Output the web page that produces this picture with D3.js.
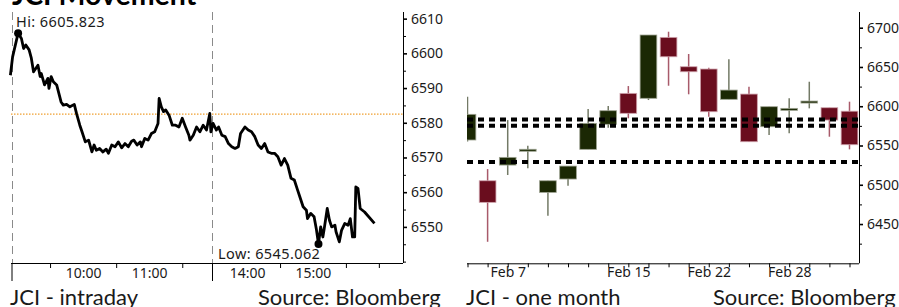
<!DOCTYPE html>
<html>
<head>
<meta charset="utf-8">
<script src="https://cdn.jsdelivr.net/npm/d3@7"></script>
<style>
  html, body { margin: 0; padding: 0; background: #fff; }
  svg { display: block; }
</style>
</head>
<body>
<div id="chart"></div>
<script>
// ---- intraday (left panel) ----
const intradayTime = [
  "8:54","8:56","9:01","9:04","9:06","9:08","9:11","9:13","9:15","9:19",
  "9:21","9:22","9:25","9:28","9:29","9:31","9:33","9:36","9:40","9:42",
  "9:45","9:48","9:52","9:54","9:57","9:59","10:02","10:05","10:08","10:10",
  "10:12","10:15","10:18","10:21","10:23","10:26","10:29","10:32","10:35","10:38",
  "10:41","10:44","10:46","10:49","10:52","10:53","10:56","10:59","11:02","11:05",
  "11:08","11:09","11:11","11:13","11:15","11:18","11:21","11:24","11:27","11:30",
  "11:33","11:36","11:37","11:40","11:43","11:46","11:49","11:52","11:55","11:56",
  "13:29","13:32","13:34","13:37","13:40","13:43","13:46","13:49","13:52","13:54",
  "13:58","14:01","14:04","14:07","14:10","14:13","14:16","14:19","14:22","14:25",
  "14:28","14:31","14:34","14:37","14:40","14:43","14:46","14:48","14:51","14:54",
  "14:55","14:58","15:01","15:03","15:05","15:07","15:09","15:10","15:13","15:15",
  "15:17","15:20","15:21","15:24","15:26","15:29","15:32","15:34","15:36","15:38",
  "15:39","15:41","15:43","15:47","15:56"
];
const intradayPrice = [
  6593.7,6599.0,6605.823,6604.3,6601.4,6602.4,6601.0,6598.6,6594.7,6596.6,
  6593.3,6594.2,6590.9,6592.8,6589.9,6593.3,6591.8,6590.9,6586.0,6585.1,
  6585.3,6584.6,6585.3,6582.7,6579.3,6577.4,6574.5,6575.0,6571.6,6573.6,
  6572.1,6572.6,6571.6,6572.4,6571.2,6573.6,6573.1,6574.5,6572.8,6574.0,
  6573.1,6574.7,6575.0,6573.6,6574.5,6573.1,6575.5,6575.0,6576.9,6577.4,
  6579.8,6587.0,6584.6,6583.2,6583.7,6582.2,6579.3,6579.3,6578.8,6581.3,
  6578.8,6576.4,6575.0,6576.4,6578.8,6577.4,6579.3,6577.9,6582.7,6577.4,
  6579.8,6577.9,6578.8,6576.4,6576.0,6574.0,6573.1,6572.6,6573.1,6576.9,
  6578.8,6577.9,6577.4,6576.0,6573.6,6572.6,6574.0,6571.6,6571.2,6571.2,
  6570.2,6567.8,6569.7,6567.8,6564.0,6563.5,6560.6,6558.7,6555.8,6554.8,
  6552.4,6553.9,6552.9,6549.5,6545.062,6550.0,6547.1,6549.0,6555.3,6551.9,
  6550.0,6550.5,6548.6,6545.7,6549.0,6551.0,6550.5,6552.4,6547.1,6547.1,
  6561.5,6561.1,6555.3,6554.3,6551.0
];
const prevClose = 6582.5;
const intradayYTicks = [6550, 6560, 6570, 6580, 6590, 6600, 6610];
const intradayYMinor = [6540, 6545, 6555, 6565, 6575, 6585, 6595, 6605];
const hourLabels = ["10:00", "11:00", "14:00", "15:00"];
const halfHourTicks = ["9:30", "10:30", "11:30", "14:30", "15:30", "16:00"];
const sessionBounds = ["8:55", "11:57", "13:28", "16:22"];

// ---- one month daily (right panel) ----
const dailyDates = ["Feb 5","Feb 6","Feb 7","Feb 8","Feb 9","Feb 12","Feb 13","Feb 14","Feb 15","Feb 19",
                    "Feb 20","Feb 21","Feb 22","Feb 23","Feb 26","Feb 27","Feb 28","Mar 1","Mar 2","Mar 5"];
const dailyOpen  = [6557.0,6505.1,6525.1,6544.2,6490.3,6507.3,6545.1,6577.0,6616.4,6610.1,
                    6687.7,6650.3,6647.4,6608.8,6615.5,6573.9,6595.2,6605.9,6598.1,6593.7];
const dailyHigh  = [6612.1,6520.0,6582.4,6549.7,6505.1,6523.8,6596.4,6600.3,6625.7,6690.7,
                    6694.9,6666.5,6649.0,6659.7,6624.8,6599.4,6610.1,6631.2,6598.1,6605.8];
const dailyLow   = [6555.0,6427.4,6512.4,6520.9,6460.6,6498.8,6545.1,6572.6,6584.6,6607.9,
                    6626.1,6615.2,6586.6,6608.8,6554.8,6563.3,6565.5,6597.3,6561.2,6545.1];
const dailyClose = [6589.7,6477.6,6534.9,6545.2,6505.1,6523.8,6578.2,6594.3,6591.0,6690.7,
                    6663.0,6643.9,6593.0,6620.6,6554.8,6599.4,6597.3,6606.6,6582.4,6551.0];
const dateLabels = ["Feb 7", "Feb 15", "Feb 22", "Feb 28"];
const levelLines = [6583, 6575, 6529];
const dailyYTicks = [6450, 6500, 6550, 6600, 6650, 6700];
const dailyYMinor = [6425, 6475, 6525, 6575, 6625, 6675];

function toMin(s) {
    const p = s.split(":");
    return +p[0] * 60 + +p[1];
}

function makeChart(containerSelector) {
    const width = 899, height = 307;
    const tickFont = "'Noto Sans', 'DejaVu Sans', sans-serif";
    const capFont = "Lato, 'Open Sans', sans-serif";
    const ink = "#1a1a1a";
    const fmt = d3.format("d");

    d3.select(containerSelector).html("");
    const svg = d3.select(containerSelector)
        .append("svg")
        .attr("width", width)
        .attr("height", height)
        .attr("viewBox", `0 0 ${width} ${height}`);

    // title, cut off at the top like the original
    svg.append("text")
        .attr("x", 12)
        .attr("y", 5)
        .attr("font-family", capFont)
        .attr("font-weight", "bold")
        .attr("font-size", "28.5px")
        .attr("fill", "#000")
        .text("JCI Movement");

    // ================= left: intraday =================
    const L = { left: 11, right: 403, top: 12, bottom: 263 };
    const b = sessionBounds.map(toMin);
    const xL = d3.scaleLinear()
        .domain(b)
        .range([11.5, 212, 212, L.right]);
    const yL = d3.scaleLinear()
        .domain([6539.6, 6612])
        .range([L.bottom, 11.7]);

    const left = svg.append("g").attr("class", "intraday");

    // session separators
    [b[0], b[2]].forEach(t => {
        left.append("line")
            .attr("x1", Math.round(xL(t)) + 0.5).attr("x2", Math.round(xL(t)) + 0.5)
            .attr("y1", L.top).attr("y2", L.bottom)
            .attr("stroke", "#8a8a8a")
            .attr("stroke-width", 1)
            .attr("stroke-dasharray", "8,5");
    });

    // previous close
    left.append("line")
        .attr("x1", L.left).attr("x2", L.right)
        .attr("y1", yL(prevClose)).attr("y2", yL(prevClose))
        .attr("stroke", "#f0a030")
        .attr("stroke-width", 1.3)
        .attr("stroke-dasharray", "1.5,1.5");

    // price line
    const pts = intradayTime.map((t, i) => ({ t: toMin(t), v: intradayPrice[i] }));
    const line = d3.line().x(d => xL(d.t)).y(d => yL(d.v));
    left.append("path")
        .datum(pts)
        .attr("d", line)
        .attr("fill", "none")
        .attr("stroke", "#000")
        .attr("stroke-width", 2.8)
        .attr("stroke-linejoin", "round");

    // hi / low markers
    const hi = pts[d3.maxIndex(pts, d => d.v)];
    const lo = pts[d3.minIndex(pts, d => d.v)];
    [hi, lo].forEach(d => {
        left.append("circle")
            .attr("cx", xL(d.t)).attr("cy", yL(d.v))
            .attr("r", 4)
            .attr("fill", "#000");
    });
    left.append("text")
        .attr("x", 16).attr("y", 27)
        .attr("font-family", tickFont).attr("font-size", "14.5px")
        .attr("letter-spacing", "0.4px")
        .attr("fill", ink)
        .text("Hi: " + hi.v.toFixed(3));
    left.append("text")
        .attr("x", 218).attr("y", 259)
        .attr("font-family", tickFont).attr("font-size", "14.5px")
        .attr("letter-spacing", "0.4px")
        .attr("fill", ink)
        .text("Low: " + lo.v.toFixed(3));

    // right y axis
    const yAxisL = left.append("g")
        .attr("transform", `translate(${L.right},0)`)
        .call(d3.axisRight(yL).tickValues(intradayYTicks).tickSize(4).tickPadding(4).tickSizeOuter(0)
            .tickFormat(fmt));
    const yMinorL = left.append("g")
        .attr("transform", `translate(${L.right},0)`)
        .call(d3.axisRight(yL).tickValues(intradayYMinor).tickSize(3).tickFormat(""));
    yMinorL.select(".domain").remove();
    yAxisL.select(".domain").attr("d", `M0.5,${L.top}V${L.bottom}`);

    // bottom x axis
    const xAxisL = left.append("g")
        .attr("transform", `translate(0,${L.bottom})`);
    xAxisL.append("line")
        .attr("x1", L.left).attr("x2", L.right)
        .attr("y1", 0.5).attr("y2", 0.5)
        .attr("stroke", "#000");
    const minorL = left.append("g")
        .attr("transform", `translate(0,${L.bottom})`)
        .call(d3.axisBottom(xL).tickValues(halfHourTicks.map(toMin)).tickSize(5).tickFormat(""));
    minorL.select(".domain").remove();
    const longL = left.append("g")
        .attr("transform", `translate(0,${L.bottom})`)
        .call(d3.axisBottom(xL).tickValues([b[0], b[2]]).tickSize(18).tickFormat(""));
    longL.select(".domain").remove();
    const labL = left.append("g")
        .attr("transform", `translate(0,${L.bottom})`)
        .call(d3.axisBottom(xL).tickValues(hourLabels.map(toMin)).tickSize(0).tickPadding(5)
            .tickFormat((d, i) => hourLabels[i]));
    labL.select(".domain").remove();

    // ================= right: one month =================
    const R = { left: 467, right: 859, top: 12, bottom: 263.3 };
    const xR = d3.scalePoint()
        .domain(dailyDates)
        .range([467.5, 849.5]);
    const bodyW = 16.7;
    const yR = d3.scaleLinear()
        .domain([6400, 6720])
        .range([R.bottom, R.top]);

    const right = svg.append("g").attr("class", "daily");
    svg.append("defs").append("clipPath")
        .attr("id", "clipR")
        .append("rect")
        .attr("x", R.left).attr("y", 0)
        .attr("width", R.right - R.left).attr("height", R.bottom);

    const candles = right.append("g").attr("clip-path", "url(#clipR)");
    const bars = dailyDates.map((d, i) => ({
        date: d, o: dailyOpen[i], h: dailyHigh[i], l: dailyLow[i], c: dailyClose[i]
    }));

    bars.forEach(d => {
        const up = d.c >= d.o;
        const cx = xR(d.date);
        candles.append("line")
            .attr("x1", cx).attr("x2", cx)
            .attr("y1", yR(d.h)).attr("y2", yR(d.l))
            .attr("stroke", up ? "#737a66" : "#a85a6a")
            .attr("stroke-width", 1.5);
        const top = yR(Math.max(d.o, d.c));
        const h = Math.max(2, yR(Math.min(d.o, d.c)) - top);
        candles.append("rect")
            .attr("x", cx - bodyW / 2)
            .attr("y", top)
            .attr("width", bodyW)
            .attr("height", h)
            .attr("fill", up ? "#1b2804" : "#6a0d1e")
            .attr("stroke", up ? "#9ea392" : "#cfa3ad")
            .attr("stroke-width", 0.8);
    });

    // support / resistance levels
    levelLines.forEach(v => {
        right.append("line")
            .attr("x1", R.left).attr("x2", R.right - 1)
            .attr("y1", yR(v)).attr("y2", yR(v))
            .attr("stroke", "#000")
            .attr("stroke-width", 4)
            .attr("stroke-dasharray", "6,5");
    });

    // right y axis
    const yAxisR = right.append("g")
        .attr("transform", `translate(${R.right},0)`)
        .call(d3.axisRight(yR).tickValues(dailyYTicks).tickSize(4).tickPadding(4).tickSizeOuter(0)
            .tickFormat(fmt));
    yAxisR.select(".domain").attr("d", `M0.5,${R.top}V${R.bottom}`);
    const yMinorR = right.append("g")
        .attr("transform", `translate(${R.right},0)`)
        .call(d3.axisRight(yR).tickValues(dailyYMinor).tickSize(3).tickFormat(""));
    yMinorR.select(".domain").remove();

    // bottom x axis: a tick per session, labels on a few dates
    const xAxisR = right.append("g")
        .attr("transform", `translate(0,${R.bottom})`)
        .call(d3.axisBottom(xR).tickSize(4).tickPadding(0)
            .tickFormat(d => dateLabels.includes(d) ? d : ""));
    xAxisR.select(".domain").attr("d", `M${R.left},0.5H${R.right}`);

    // common axis styling
    [yAxisL, yMinorL, minorL, longL, labL, yAxisR, yMinorR, xAxisR].forEach(g => {
        g.attr("font-family", tickFont).attr("font-size", "14px");
        g.selectAll("text").filter(function() { return this.textContent === ""; }).remove();
        g.selectAll("text").attr("fill", ink);
        g.selectAll("line").attr("stroke", "#000").attr("stroke-width", 1);
        g.select(".domain").attr("stroke", "#000");
    });
    [yAxisL, yAxisR].forEach(g => g.selectAll(".tick line").attr("stroke-width", 1.6));

    // captions
    const captions = [
        { x: 10, text: "JCI - intraday" },
        { x: 258, text: "Source: Bloomberg" },
        { x: 466, text: "JCI - one month" },
        { x: 713, text: "Source: Bloomberg" }
    ];
    captions.forEach(c => {
        svg.append("text")
            .attr("x", c.x).attr("y", 305)
            .attr("font-family", capFont)
            .attr("font-size", "22px")
            .attr("fill", ink)
            .text(c.text);
    });

    return svg.node();
}

makeChart("#chart");
</script>
</body>
</html>
